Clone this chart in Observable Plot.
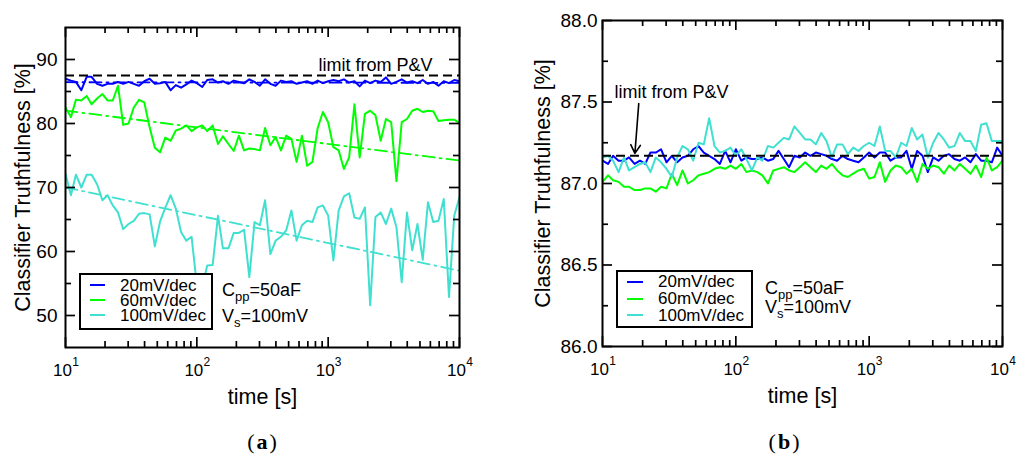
<!DOCTYPE html>
<html><head><meta charset="utf-8">
<script src="https://cdn.jsdelivr.net/npm/d3@7"></script>
<script src="https://cdn.jsdelivr.net/npm/@observablehq/plot@0.6"></script>
<style>
body{margin:0;background:#fff;font-family:"Liberation Sans",Arial,sans-serif;}
#wrap{position:relative;width:1027px;height:455px;overflow:hidden;background:#fff;}
.panel{position:absolute;top:0;}
.legend{position:absolute;border:2px solid #000;background:#fff;box-sizing:border-box;}
.sw{position:absolute;height:2px;}
.lt{position:absolute;font-size:17px;white-space:nowrap;color:#000;}
.note{position:absolute;font-size:18px;white-space:nowrap;color:#000;}
.note sub{font-size:13px;vertical-align:-5px;line-height:0;}
.cap{position:absolute;width:100px;text-align:center;font-family:"Liberation Serif","DejaVu Serif",serif;font-size:22px;letter-spacing:2px;line-height:22px;color:#000;}
</style>
</head><body>
<div id="wrap"></div>
<script>
// ---------------- data ----------------
const times = [10, 11.0, 12.0, 13.2, 14.5, 15.8, 17.4, 19.1, 20.9, 22.9, 25.1, 27.5, 30.2, 33.1, 36.3, 39.8, 43.7, 47.9, 52.5, 57.5, 63.1, 69.2, 75.9, 83.2, 91.2,
  100, 110, 120, 132, 145, 158, 174, 191, 209, 229, 251, 275, 302, 331, 363, 398, 437, 479, 525, 575, 631, 692, 759, 832, 912,
  1000, 1096, 1202, 1318, 1445, 1585, 1738, 1905, 2089, 2291, 2512, 2754, 3020, 3311, 3631, 3981, 4365, 4786, 5248, 5754, 6310, 6918, 7586, 8318, 9120, 10000];

const seriesNames = ["20mV/dec", "60mV/dec", "100mV/dec"];
const seriesColors = ["#0000ff", "#00ff00", "#40e0d0"];

// panel (a)
const aBlue = [87.0,86.7,86.5,85.2,87.3,87.3,86.2,85.9,86.2,86.2,
  86.5,86.2,86.5,86.2,85.9,86.6,87.0,86.2,86.3,86.5,
  85.2,86.0,85.6,86.1,86.7,86.3,85.7,86.8,86.9,86.4,
  86.6,86.2,86.7,86.5,86.3,86.9,86.5,85.9,86.9,86.2,
  85.9,86.7,86.5,86.6,86.2,86.4,86.6,86.2,86.7,86.3,
  86.6,86.8,86.6,86.9,86.4,86.6,85.8,86.7,86.3,86.7,
  86.5,87.2,86.2,86.5,86.9,86.4,86.6,86.3,86.8,86.2,
  86.5,85.9,86.6,86.3,86.8,86.6];
const aGreen = [82.5,81.0,83.7,83.6,84.3,83.0,83.9,84.6,83.6,83.6,
  85.9,79.8,80.0,82.5,83.7,83.3,79.4,76.2,75.5,77.8,
  77.3,78.9,79.2,79.7,78.8,79.4,79.7,78.8,79.7,76.8,
  78.0,76.8,75.7,78.1,75.8,76.1,76.0,75.8,79.3,76.6,
  77.9,75.8,78.1,77.6,74.0,78.1,73.4,74.0,79.3,81.8,
  80.2,76.3,75.8,72.9,74.7,83.0,74.7,81.5,82.0,81.3,
  77.3,80.7,80.2,71.0,80.2,80.7,82.0,82.3,81.8,82.0,
  81.9,80.4,80.5,80.6,80.6,80.1];
const aCyan = [72.1,68.8,72.0,70.0,72.0,72.0,70.5,68.0,68.8,67.2,
  66.1,63.5,64.3,64.8,65.9,66.0,65.8,60.8,64.7,66.8,
  68.8,66.7,63.0,61.7,62.3,54.8,54.5,57.8,57.9,65.6,
  60.5,60.5,62.9,62.9,63.4,56.0,64.6,64.1,68.0,59.6,
  61.7,62.3,63.3,66.4,61.7,64.1,64.8,64.6,66.9,67.2,
  65.6,58.6,66.4,68.6,69.1,65.3,65.1,66.9,51.6,65.4,
  66.1,64.3,66.7,63.8,55.2,66.1,60.2,64.3,58.7,67.7,
  64.6,64.8,68.2,52.9,65.6,68.5];
const fitTimes = [10, 10000];
const aFitBlue = [86.45, 86.35];
const aFitGreen = [82.0, 74.2];
const aFitCyan = [70.0, 57.0];
const aLimit = 87.5;

// panel (b)
const bBlue = [87.14,87.12,87.17,87.14,87.14,87.16,87.12,87.14,87.12,87.19,
  87.19,87.21,87.13,87.17,87.13,87.16,87.17,87.21,87.23,87.19,
  87.17,87.15,87.12,87.20,87.13,87.21,87.14,87.16,87.15,87.15,
  87.16,87.14,87.15,87.20,87.15,87.10,87.17,87.16,87.19,87.17,
  87.19,87.18,87.17,87.15,87.14,87.17,87.15,87.14,87.13,87.16,
  87.19,87.16,87.19,87.19,87.14,87.16,87.16,87.20,87.09,87.20,
  87.17,87.07,87.16,87.14,87.17,87.18,87.15,87.14,87.16,87.13,
  87.18,87.14,87.14,87.13,87.22,87.17];
const bGreen = [87.01,87.05,87.02,87.01,86.98,86.98,86.96,86.96,86.97,86.97,
  86.95,86.98,86.97,87.06,86.99,87.08,87.00,87.02,87.05,87.06,
  87.07,87.09,87.10,87.09,87.11,87.09,87.12,87.07,87.08,87.07,
  87.05,87.00,87.08,87.09,87.10,87.08,87.07,87.10,87.13,87.10,
  87.07,87.11,87.09,87.12,87.08,87.05,87.04,87.06,87.08,87.09,
  87.03,87.04,87.13,87.01,87.08,87.11,87.10,87.06,87.09,87.01,
  87.12,87.09,87.11,87.10,87.06,87.11,87.08,87.12,87.09,87.06,
  87.11,87.04,87.16,87.08,87.10,87.14];
const bCyan = [87.16,87.17,87.14,87.07,87.16,87.08,87.10,87.12,87.13,87.07,
  87.16,87.13,87.09,87.04,87.16,87.23,87.21,87.14,87.25,87.24,
  87.40,87.23,87.19,87.20,87.22,87.17,87.21,87.15,87.08,87.16,
  87.14,87.23,87.22,87.25,87.28,87.27,87.35,87.31,87.27,87.27,
  87.24,87.31,87.26,87.16,87.24,87.24,87.18,87.22,87.20,87.23,
  87.25,87.23,87.35,87.20,87.20,87.16,87.25,87.23,87.34,87.27,
  87.30,87.16,87.25,87.31,87.27,87.22,87.23,87.31,87.26,87.26,
  87.20,87.36,87.37,87.26,87.26,87.26];
const bLimit = 87.17;

// ticks / labels
const xMajor = [10, 100, 1000, 10000];
const xMinor = [20,30,40,50,60,70,80,90,200,300,400,500,600,700,800,900,2000,3000,4000,5000,6000,7000,8000,9000];
const aYMajor = [50, 60, 70, 80, 90];
const aYMinor = [55, 65, 75, 85];
const bYMajor = [86.0, 86.5, 87.0, 87.5, 88.0];
const bYMinor = [86.25, 86.75, 87.25, 87.75];
const xTitle = "time [s]";
const yTitle = "Classifier Truthfulness [%]";
const limitText = "limit from P&V";
const aNote = [{t: 2290, v: 89.06}];
const bNote = [{t: 32.9, v: 87.558}];
const bArrow = [{t1: 18.7, v1: 87.49, t2: 17.5, v2: 87.185}];
const paramLines = ["C<sub>pp</sub>=50aF", "V<sub>s</sub>=100mV"];

// ---------------- helpers ----------------
function rows(vals, name) { return times.map((t, i) => ({t, v: vals[i], s: name})); }
function fitRows(vals, name) { return fitTimes.map((t, i) => ({t, v: vals[i], s: name})); }

function frameTicks(innerW, innerH, yMajor, yMinor) {
  const M = 10, m = 6, sw = 1.7;
  return [
    Plot.tickX(xMajor, {x: d => d, insetTop: innerH - M, strokeWidth: sw}),
    Plot.tickX(xMajor, {x: d => d, insetBottom: innerH - M, strokeWidth: sw}),
    Plot.tickX(xMinor, {x: d => d, insetTop: innerH - m, strokeWidth: sw}),
    Plot.tickX(xMinor, {x: d => d, insetBottom: innerH - m, strokeWidth: sw}),
    Plot.tickY(yMajor, {y: d => d, insetRight: innerW - M, strokeWidth: sw}),
    Plot.tickY(yMajor, {y: d => d, insetLeft: innerW - M, strokeWidth: sw}),
    Plot.tickY(yMinor, {y: d => d, insetRight: innerW - m, strokeWidth: sw}),
    Plot.tickY(yMinor, {y: d => d, insetLeft: innerW - m, strokeWidth: sw})
  ];
}

function xLabels() {
  return [
    Plot.text(xMajor, {x: d => d, text: () => "10", frameAnchor: "bottom", dy: 23, dx: -3, fontSize: 17, textAnchor: "middle", lineAnchor: "middle"}),
    Plot.text(xMajor, {x: d => d, text: d => String(Math.round(Math.log10(d))), frameAnchor: "bottom", dy: 15, dx: 10, fontSize: 12, textAnchor: "middle", lineAnchor: "middle"})
  ];
}

function makePanel(o) {
  const innerW = o.width - o.ml - o.mr, innerH = o.height - o.mt - o.mb;
  const data = [].concat(...o.series.map((s, i) => rows(s, seriesNames[i])));
  const fits = o.fits ? [].concat(...o.fits.map((f, i) => fitRows(f, seriesNames[i]))) : [];
  const marks = [];
  if (fits.length) marks.push(Plot.line(fits, {x: "t", y: "v", z: "s", stroke: "s", strokeWidth: 1.8, strokeDasharray: "12,5,2,5", clip: true}));
  marks.push(Plot.line(data, {x: "t", y: "v", z: "s", stroke: "s", strokeWidth: 2, clip: true}));
  marks.push(Plot.ruleY([o.limit], {y: d => d, stroke: "#000", strokeWidth: 2, strokeDasharray: "9,5"}));
  marks.push(...frameTicks(innerW, innerH, o.yMajor, o.yMinor));
  marks.push(Plot.frame({stroke: "#000", strokeWidth: 2}));
  marks.push(Plot.text(o.yMajor, {y: d => d, text: o.yFmt, frameAnchor: "left", textAnchor: "end", dx: -o.yPad, fontSize: 19, lineAnchor: "middle"}));
  marks.push(...xLabels());
  marks.push(Plot.text([xTitle], {text: d => d, frameAnchor: "bottom", dy: 50, fontSize: 21.5, textAnchor: "middle", lineAnchor: "middle"}));
  marks.push(Plot.text([yTitle], {text: d => d, frameAnchor: "left", rotate: -90, dx: -o.yTitleOff, fontSize: 21.5, textAnchor: "middle", lineAnchor: "middle"}));
  marks.push(Plot.text(o.note, {x: "t", y: "v", text: () => limitText, fontSize: 18, textAnchor: "middle", lineAnchor: "middle"}));
  if (o.arrow) marks.push(Plot.arrow(o.arrow, {x1: "t1", y1: "v1", x2: "t2", y2: "v2", stroke: "#000", strokeWidth: 1.6, headLength: 9}));
  return Plot.plot({
    width: o.width, height: o.height,
    marginTop: o.mt, marginBottom: o.mb, marginLeft: o.ml, marginRight: o.mr,
    style: {fontFamily: "'Liberation Sans', Arial, sans-serif", background: "transparent", overflow: "visible", color: "#000"},
    x: {type: "log", domain: [10, 10000], axis: null},
    y: {domain: o.yDomain, axis: null},
    color: {domain: seriesNames, range: seriesColors},
    marks
  });
}

const wrap = document.getElementById("wrap");
function place(el, left, top) { el.style.left = left + "px"; el.style.top = top + "px"; wrap.appendChild(el); }

const pa = makePanel({width: 513, height: 410, mt: 27, mb: 63, ml: 65, mr: 54,
  yDomain: [45, 95], yMajor: aYMajor, yMinor: aYMinor, yFmt: d => String(d), yPad: 8, yTitleOff: 42,
  series: [aBlue, aGreen, aCyan], fits: [aFitBlue, aFitGreen, aFitCyan], limit: aLimit, note: aNote});
const pb = makePanel({width: 514, height: 410, mt: 20, mb: 64, ml: 89, mr: 25,
  yDomain: [86, 88], yMajor: bYMajor, yMinor: bYMinor, yFmt: d => d.toFixed(1), yPad: 5, yTitleOff: 59,
  series: [bBlue, bGreen, bCyan], limit: bLimit, note: bNote, arrow: bArrow});
const da = document.createElement("div"); da.className = "panel"; da.style.width = "513px"; da.appendChild(pa); place(da, 0, 0);
const db = document.createElement("div"); db.className = "panel"; db.style.width = "514px"; db.appendChild(pb); place(db, 513, 0);

// legends: swatches + one text block
function legend(left, top, w, h, firstY, step, swLeft, swW, txtLeft) {
  const box = document.createElement("div");
  box.className = "legend";
  box.style.width = w + "px"; box.style.height = h + "px";
  seriesNames.forEach((n, i) => {
    const s = document.createElement("div"); s.className = "sw";
    s.style.left = swLeft + "px"; s.style.width = swW + "px"; s.style.top = (firstY + i * step - 1) + "px"; s.style.background = seriesColors[i];
    box.appendChild(s);
  });
  const t = document.createElement("div"); t.className = "lt";
  t.style.lineHeight = step + "px";
  t.innerHTML = seriesNames.join("<br>");
  t.style.left = txtLeft + "px";
  t.style.top = (firstY - (step - 19.5) / 2 - 15.4 + 6.1) + "px";
  box.appendChild(t);
  place(box, left, top);
}
legend(79, 273, 134, 57, 10, 15, 9, 15, 39);
legend(616, 270, 137, 58, 10, 16.7, 9, 16, 40);

function note(left, baseline, lh) {
  const d = document.createElement("div"); d.className = "note";
  d.style.lineHeight = lh + "px";
  d.innerHTML = paramLines.join("<br>");
  place(d, left, baseline - ((lh - 20.7) / 2 + 16.3));
}
note(222, 296, 26);
note(765, 294, 19);

function caption(html, cx, top) {
  const d = document.createElement("div"); d.className = "cap"; d.innerHTML = html;
  place(d, cx - 50, top);
}
caption("(<b>a</b>)", 263, 431);
caption("(<b>b</b>)", 785, 431);
</script>
</body></html>
